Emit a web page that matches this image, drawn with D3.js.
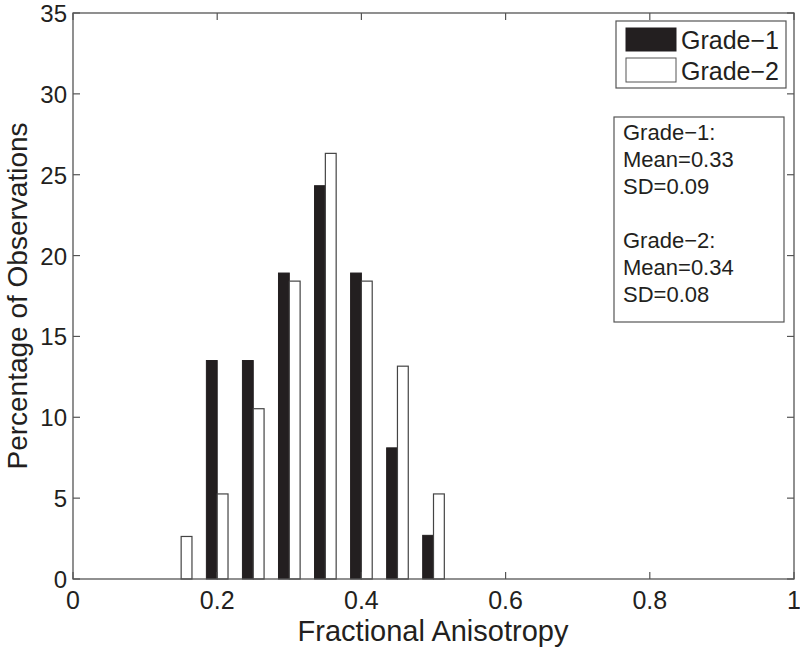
<!DOCTYPE html>
<html lang="en">
<head>
<meta charset="UTF-8">
<title>Fractional Anisotropy histogram</title>
<script src="https://d3js.org/d3.v7.min.js"></script>
<style>
    body { margin: 0; background: #fff; }
    text { font-family: "Liberation Sans", Arial, sans-serif; fill: #231f20; }
</style>
</head>
<body>
<svg width="800" height="649"></svg>
<script>
    // bin centres and percentages
    const binCenters = [0.15, 0.20, 0.25, 0.30, 0.35, 0.40, 0.45, 0.50];
    const grade1 = [0, 13.51, 13.51, 18.92, 24.32, 18.92, 8.11, 2.70];
    const grade2 = [2.63, 5.26, 10.53, 18.42, 26.32, 18.42, 13.16, 5.26];
    const xTicks = [0, 0.2, 0.4, 0.6, 0.8, 1];
    const yTicks = [0, 5, 10, 15, 20, 25, 30, 35];
    const statsLines = ["Grade\u22121:", "Mean=0.33", "SD=0.09", "", "Grade\u22122:", "Mean=0.34", "SD=0.08"];

    const svg = d3.select("svg");
    const plotLeft = 73, plotRight = 794, plotTop = 13, plotBottom = 579;
    const axisColor = "#555";

    const x = d3.scaleLinear().domain([0, 1]).range([plotLeft, plotRight]);
    const y = d3.scaleLinear().domain([0, 35]).range([plotBottom, plotTop]);
    const barW = 0.015;

    // bars
    const g = svg.append("g");
    g.selectAll(".g1").data(binCenters.map((c, i) => ({c, v: grade1[i]})).filter(d => d.v > 0))
        .enter().append("rect")
        .attr("x", d => x(d.c - barW))
        .attr("y", d => y(d.v))
        .attr("width", d => x(d.c) - x(d.c - barW))
        .attr("height", d => y(0) - y(d.v))
        .attr("fill", "#231f20")
        .attr("stroke", "#231f20")
        .attr("stroke-width", 1);

    g.selectAll(".g2").data(binCenters.map((c, i) => ({c, v: grade2[i]})).filter(d => d.v > 0))
        .enter().append("rect")
        .attr("x", d => x(d.c))
        .attr("y", d => y(d.v))
        .attr("width", d => x(d.c + barW) - x(d.c))
        .attr("height", d => y(0) - y(d.v))
        .attr("fill", "#fff")
        .attr("stroke", "#444")
        .attr("stroke-width", 1.2);

    // axes box with inward ticks, mirrored
    const tickLen = 7;
    svg.append("rect")
        .attr("x", plotLeft).attr("y", plotTop)
        .attr("width", plotRight - plotLeft).attr("height", plotBottom - plotTop)
        .attr("fill", "none").attr("stroke", axisColor).attr("stroke-width", 1.3);

    xTicks.forEach(t => {
        svg.append("line").attr("x1", x(t)).attr("x2", x(t)).attr("y1", plotBottom).attr("y2", plotBottom - tickLen)
            .attr("stroke", axisColor).attr("stroke-width", 1.2);
        svg.append("line").attr("x1", x(t)).attr("x2", x(t)).attr("y1", plotTop).attr("y2", plotTop + tickLen)
            .attr("stroke", axisColor).attr("stroke-width", 1.2);
        svg.append("text").attr("x", x(t)).attr("y", 609)
            .attr("text-anchor", "middle").attr("font-size", 25)
            .text(t);
    });

    yTicks.forEach(t => {
        svg.append("line").attr("x1", plotLeft).attr("x2", plotLeft + tickLen).attr("y1", y(t)).attr("y2", y(t))
            .attr("stroke", axisColor).attr("stroke-width", 1.2);
        svg.append("line").attr("x1", plotRight).attr("x2", plotRight - tickLen).attr("y1", y(t)).attr("y2", y(t))
            .attr("stroke", axisColor).attr("stroke-width", 1.2);
        svg.append("text").attr("x", 67).attr("y", y(t) + 9)
            .attr("text-anchor", "end").attr("font-size", 24)
            .text(t);
    });

    // axis titles
    svg.append("text").attr("x", 433).attr("y", 641)
        .attr("text-anchor", "middle").attr("font-size", 29)
        .text("Fractional Anisotropy");
    svg.append("text")
        .attr("transform", `translate(27,296) rotate(-90)`)
        .attr("text-anchor", "middle").attr("font-size", 28)
        .text("Percentage of Observations");

    // legend
    svg.append("rect").attr("x", 616).attr("y", 21).attr("width", 170).attr("height", 67)
        .attr("fill", "#fff").attr("stroke", axisColor).attr("stroke-width", 1.2);
    svg.append("rect").attr("x", 626).attr("y", 28).attr("width", 50).attr("height", 23)
        .attr("fill", "#231f20").attr("stroke", "#231f20");
    svg.append("rect").attr("x", 626).attr("y", 58).attr("width", 50).attr("height", 24)
        .attr("fill", "#fff").attr("stroke", axisColor);
    svg.append("text").attr("x", 681).attr("y", 49).attr("font-size", 25).text("Grade\u22121");
    svg.append("text").attr("x", 681).attr("y", 80).attr("font-size", 25).text("Grade\u22122");

    // stats box
    svg.append("rect").attr("x", 614).attr("y", 117).attr("width", 170).attr("height", 205)
        .attr("fill", "#fff").attr("stroke", axisColor).attr("stroke-width", 1.2);
    statsLines.forEach((s, i) => {
        svg.append("text").attr("x", 623).attr("y", 140 + i * 27)
            .attr("font-size", 22).text(s);
    });
</script>
</body>
</html>
